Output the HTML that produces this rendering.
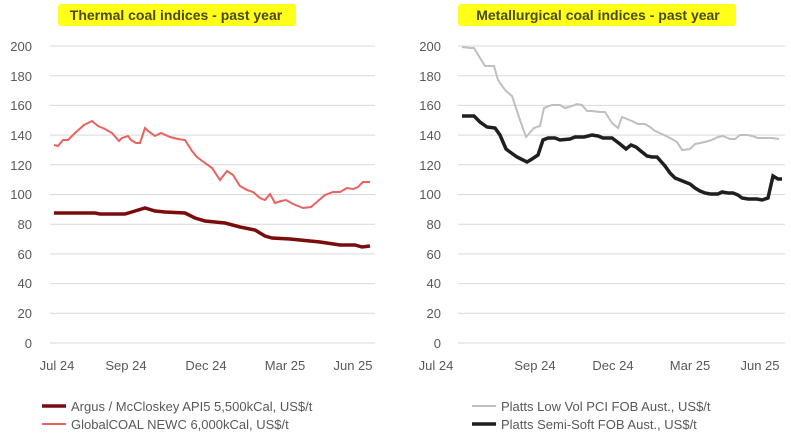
<!DOCTYPE html><html><head><style>body{margin:0;background:#fff}svg text{font-family:"Liberation Sans",sans-serif}</style></head><body>
<svg width="791" height="437" viewBox="0 0 791 437">
<rect x="58" y="4" width="238" height="22" fill="#ffff1a" rx="3"/>
<rect x="458" y="4" width="278" height="22" fill="#ffff1a" rx="3"/>
<text x="176" y="20" font-size="14" font-weight="bold" fill="#4a4a1a" text-anchor="middle">Thermal coal indices - past year</text>
<text x="598" y="20" font-size="14" font-weight="bold" fill="#4a4a1a" text-anchor="middle">Metallurgical coal indices - past year</text>
<g stroke="#d9d9d9" stroke-width="1">
<line x1="50" x2="375" y1="46" y2="46"/><line x1="50" x2="375" y1="75.7" y2="75.7"/><line x1="50" x2="375" y1="105.4" y2="105.4"/><line x1="50" x2="375" y1="135.1" y2="135.1"/><line x1="50" x2="375" y1="164.8" y2="164.8"/><line x1="50" x2="375" y1="194.5" y2="194.5"/><line x1="50" x2="375" y1="224.2" y2="224.2"/><line x1="50" x2="375" y1="253.9" y2="253.9"/><line x1="50" x2="375" y1="283.6" y2="283.6"/><line x1="50" x2="375" y1="313.3" y2="313.3"/><line x1="50" x2="375" y1="343" y2="343"/>
<line x1="458" x2="785" y1="46" y2="46"/><line x1="458" x2="785" y1="75.7" y2="75.7"/><line x1="458" x2="785" y1="105.4" y2="105.4"/><line x1="458" x2="785" y1="135.1" y2="135.1"/><line x1="458" x2="785" y1="164.8" y2="164.8"/><line x1="458" x2="785" y1="194.5" y2="194.5"/><line x1="458" x2="785" y1="224.2" y2="224.2"/><line x1="458" x2="785" y1="253.9" y2="253.9"/><line x1="458" x2="785" y1="283.6" y2="283.6"/><line x1="458" x2="785" y1="313.3" y2="313.3"/><line x1="458" x2="785" y1="343" y2="343"/>
</g>
<g font-size="13" fill="#595959" text-anchor="end">
<text x="32" y="51">200</text><text x="32" y="81">180</text><text x="32" y="110">160</text><text x="32" y="140">140</text><text x="32" y="170">120</text><text x="32" y="199">100</text><text x="32" y="229">80</text><text x="32" y="259">60</text><text x="32" y="288">40</text><text x="32" y="318">20</text><text x="32" y="348">0</text>
<text x="441" y="51">200</text><text x="441" y="81">180</text><text x="441" y="110">160</text><text x="441" y="140">140</text><text x="441" y="170">120</text><text x="441" y="199">100</text><text x="441" y="229">80</text><text x="441" y="259">60</text><text x="441" y="288">40</text><text x="441" y="318">20</text><text x="441" y="348">0</text>
</g>
<g font-size="13" fill="#595959" text-anchor="middle">
<text x="57" y="370">Jul 24</text><text x="126" y="370">Sep 24</text><text x="206" y="370">Dec 24</text><text x="285" y="370">Mar 25</text><text x="353" y="370">Jun 25</text>
<text x="436" y="370">Jul 24</text><text x="535" y="370">Sep 24</text><text x="613" y="370">Dec 24</text><text x="690" y="370">Mar 25</text><text x="760" y="370">Jun 25</text>
</g>
<polyline fill="none" stroke="#e8625f" stroke-width="2" points="54,145 58,146 63,140 68,140 75,133 84,125 92,121 98,126 105,129 112,133 119,141 122,138 128,136 131,140 136,143 140,143 145,128 148,131 155,136 161,133 170,137 178,139 185,140 192,151 197,157 205,163 212,168 220,180 227,171 233,175 240,186 247,190 253,192 260,198 265,200 270,194 275,203 281,201 286,200 293,204 298,206 303,208 311,207 318,201 325,195 333,192 340,192 347,188 353,189 358,187 363,182 370,182"/>
<polyline fill="none" stroke="#7b0c0c" stroke-width="3.5" points="54,213 95,213 100,214 125,214 135,211 145,208 155,211 165,212 185,213 195,218 205,221 215,222 225,223 240,227 255,230 265,236 272,238 290,239 300,240 320,242 340,245 355,245 362,247 370,246"/>
<polyline fill="none" stroke="#bfbfbf" stroke-width="2" points="462,47 470,48 474,48 480,58 485,66 494,66 498,80 505,90 512,96 520,120 526,137 534,128 540,126 544,108 552,105 560,105 565,108 572,106 577,104 582,105 587,111 592,111 600,112 605,112 612,123 618,128 622,117 627,119 632,121 638,124 645,124 650,127 655,131 662,134 670,138 677,142 682,150 690,149 695,144 705,142 712,140 718,137 723,136 730,139 735,139 740,135 748,135 752,136 758,138 766,138 772,138 779,139"/>
<polyline fill="none" stroke="#1f1f1f" stroke-width="3.5" points="462,116 474,116 480,122 487,127 495,128 500,135 506,149 510,152 517,157 527,162 532,159 538,155 543,140 548,138 555,138 560,140 570,139 575,137 584,137 592,135 598,136 603,138 612,138 620,144 626,149 631,145 636,147 642,152 647,156 652,157 657,157 665,166 670,173 675,178 685,182 690,184 695,188 700,191 705,193 710,194 718,194 722,192 728,193 733,193 738,195 742,198 748,199 757,199 762,200 768,198 773,176 778,179 782,179"/>
<line x1="42" x2="66" y1="406" y2="406" stroke="#7b0c0c" stroke-width="3.5"/>
<line x1="42" x2="66" y1="424" y2="424" stroke="#e8625f" stroke-width="2"/>
<line x1="472" x2="496" y1="406" y2="406" stroke="#bfbfbf" stroke-width="2"/>
<line x1="472" x2="496" y1="424" y2="424" stroke="#1f1f1f" stroke-width="3.5"/>
<g font-size="13" fill="#595959">
<text x="71" y="411">Argus / McCloskey API5 5,500kCal, US$/t</text>
<text x="71" y="429">GlobalCOAL NEWC 6,000kCal, US$/t</text>
<text x="501" y="411">Platts Low Vol PCI FOB Aust., US$/t</text>
<text x="501" y="429">Platts Semi-Soft FOB Aust., US$/t</text>
</g>
</svg></body></html>
